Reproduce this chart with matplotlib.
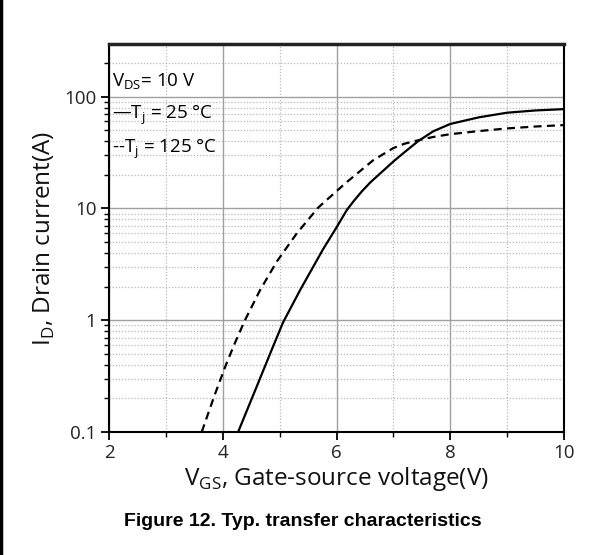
import matplotlib
matplotlib.use("Agg")
import matplotlib.pyplot as plt
from matplotlib.ticker import LogLocator, FuncFormatter
from matplotlib.lines import Line2D

plt.rcParams['font.family'] = ['Open Sans', 'DejaVu Sans']
plt.rcParams['mathtext.fontset'] = 'custom'
plt.rcParams['mathtext.rm'] = 'Open Sans'

# Tj = 25 C (solid)
vgs_25 = [4.27, 4.6, 4.88, 5.06, 5.36, 5.77, 6.0, 6.18, 6.3, 6.45, 6.6, 6.76, 7.0, 7.2, 7.43,
          7.7, 8.0, 8.5, 9.0, 9.5, 10.0]
id_25 = [0.1, 0.257, 0.575, 0.955, 1.86, 4.37, 6.76, 9.66, 11.6, 14.3, 17.2, 20.4, 26.3, 32.0, 39.8,
         49.0, 57.0, 65.3, 71.9, 75.3, 77.4]
# Tj = 125 C (dashed)
vgs_125 = [3.63, 3.85, 4.04, 4.2, 4.39, 4.654, 4.947, 5.30, 5.68, 6.15, 6.645, 7.0, 7.2,
           7.44, 7.7, 8.0, 8.5, 9.0, 9.5, 10.0]
id_125 = [0.1, 0.209, 0.38, 0.603, 1.0, 1.85, 3.33, 5.97, 10.2, 16.7, 27.0, 34.7, 38.0,
          40.8, 43.6, 46.2, 49.2, 52.0, 54.1, 55.7]

x_ticks = [2, 4, 6, 8, 10]
x_minor = [3, 5, 7, 9]
y_ticks = [0.1, 1, 10, 100]
y_tick_labels = ['0.1', '1', '10', '100']

fig = plt.figure(figsize=(6.03, 5.55), dpi=100)
ax = fig.add_axes([109/603, 1-432/555, (564-109)/603, (432-44)/555])

ax.plot(vgs_25, id_25, color='black', lw=1.6)
ax.plot(vgs_125, id_125, color='black', lw=1.6, ls=(0, (3.6, 2.4)))

ax.set_yscale('log')
ax.set_xlim(2, 10)
ax.set_ylim(0.1, 296)

ax.set_xticks(x_ticks)
ax.set_xticks(x_minor, minor=True)
ax.set_yticks(y_ticks)
ax.set_yticklabels(y_tick_labels)
ax.yaxis.set_minor_locator(LogLocator(base=10, subs=range(2, 10)))
ax.yaxis.set_minor_formatter(FuncFormatter(lambda v, p: ''))

ax.grid(which='major', color='#a0a0a0', lw=1.0, ls='-')
ax.grid(which='minor', color='#b8b8b8', lw=0.9, ls=(0, (1, 1.5)))
ax.set_axisbelow(True)

ax.tick_params(axis='both', which='major', direction='out', length=6, width=1.3,
               labelsize=13.5, color='black', labelcolor='#222222', pad=3)
ax.tick_params(axis='both', which='minor', direction='out', length=3.5, width=1.0, color='black')
ax.tick_params(top=False, right=False)

for s in ['left', 'right', 'bottom']:
    ax.spines[s].set_linewidth(1.5)
ax.spines['top'].set_linewidth(2.5)
ax.spines['top'].set_color('#222222')

ax.set_xlabel(r'V$_\mathregular{GS}$, Gate-source voltage(V)', fontsize=17.5, color='#111111', labelpad=2)
ax.set_ylabel(r'I$_\mathregular{D}$, Drain current(A)', fontsize=17.5, color='#111111', labelpad=5)

ax.text(0.006, 0.902, r'V$_\mathregular{DS}$= 10 V', transform=ax.transAxes, fontsize=13.5, va='center', ha='left')
ax.text(0.006, 0.817, r'—T$_\mathregular{j}$ = 25 °C', transform=ax.transAxes, fontsize=13.5, va='center', ha='left')
ax.text(0.006, 0.729, r'--T$_\mathregular{j}$ = 125 °C', transform=ax.transAxes, fontsize=13.5, va='center', ha='left')

fig.text(303/603, 1-522/555, 'Figure 12. Typ. transfer characteristics', ha='center', va='center',
         fontsize=14, fontweight='bold', family='Liberation Sans')

fig.add_artist(Line2D([0.002, 0.002], [0, 1], transform=fig.transFigure, color='black', lw=2.5))

fig.savefig('out.png', dpi=100)
